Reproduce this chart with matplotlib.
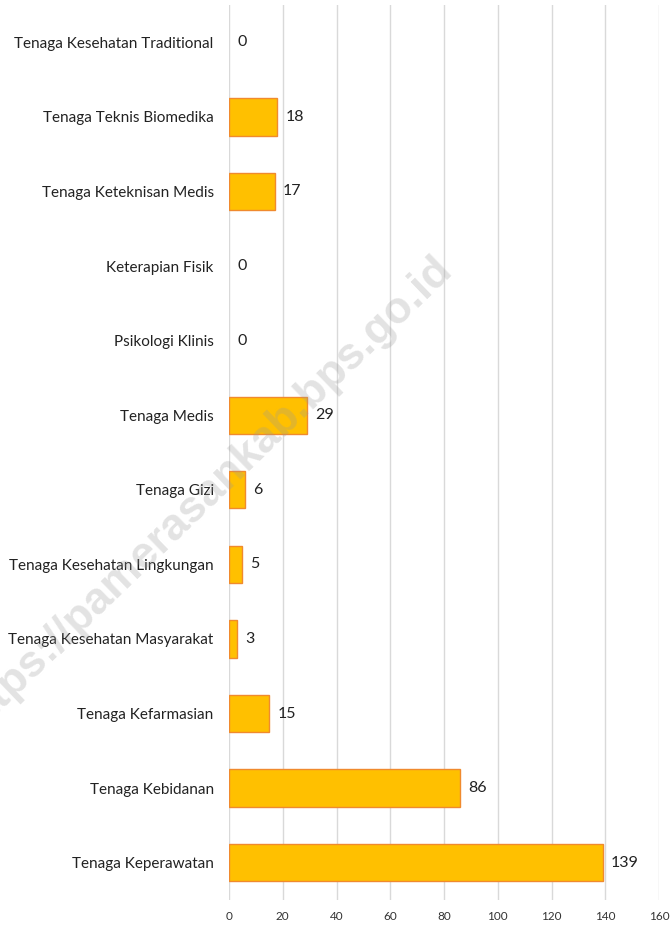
import matplotlib
matplotlib.use("Agg")
import matplotlib.pyplot as plt

categories = [
    "Tenaga Keperawatan",
    "Tenaga Kebidanan",
    "Tenaga Kefarmasian",
    "Tenaga Kesehatan Masyarakat",
    "Tenaga Kesehatan Lingkungan",
    "Tenaga Gizi",
    "Tenaga Medis",
    "Psikologi Klinis",
    "Keterapian Fisik",
    "Tenaga Keteknisan Medis",
    "Tenaga Teknis Biomedika",
    "Tenaga Kesehatan Traditional",
]
values = [139, 86, 15, 3, 5, 6, 29, 0, 0, 17, 18, 0]
xticks = [0, 20, 40, 60, 80, 100, 120, 140, 160]

plt.rcParams['font.family'] = ['Lato', 'DejaVu Sans']

fig = plt.figure(figsize=(6.72, 9.25), dpi=100)
ax = fig.add_axes([229/672, 1 - 900/925, 430/672, 895/925])

ypos = list(range(len(categories)))
edges = ["#F08A2E" if v > 0 else "none" for v in values]
ax.barh(ypos, values, height=0.5, color="#FFC000", edgecolor=edges,
        linewidth=1.0, zorder=3)

for y, v in zip(ypos, values):
    ax.text(v + 3, y, str(v), va="center", ha="left", fontsize=11.5,
            color="#222222", zorder=4)

ax.set_xlim(0, 160)
ax.set_ylim(-0.5, len(categories) - 0.5)
ax.set_xticks(xticks)
ax.set_xticklabels([str(t) for t in xticks], fontsize=8.5, color="#333333")
ax.set_yticks(ypos)
ax.set_yticklabels(categories, fontsize=11, color="#222222")
ax.tick_params(axis="both", length=0)
ax.tick_params(axis="y", pad=11)
ax.tick_params(axis="x", pad=8)
ax.xaxis.grid(True, color="#D9D9D9", linewidth=1.0, zorder=0)
ax.set_axisbelow(True)
for s in ax.spines.values():
    s.set_visible(False)

fig.text(205/672, 1 - 495/925, "https://pamerasankab.bps.go.id",
         rotation=44, fontsize=32, fontweight="bold", color="#999999",
         family="Liberation Sans",
         alpha=0.28, ha="center", va="center", zorder=10,
         rotation_mode="anchor")

fig.savefig("out.png", dpi=100)
